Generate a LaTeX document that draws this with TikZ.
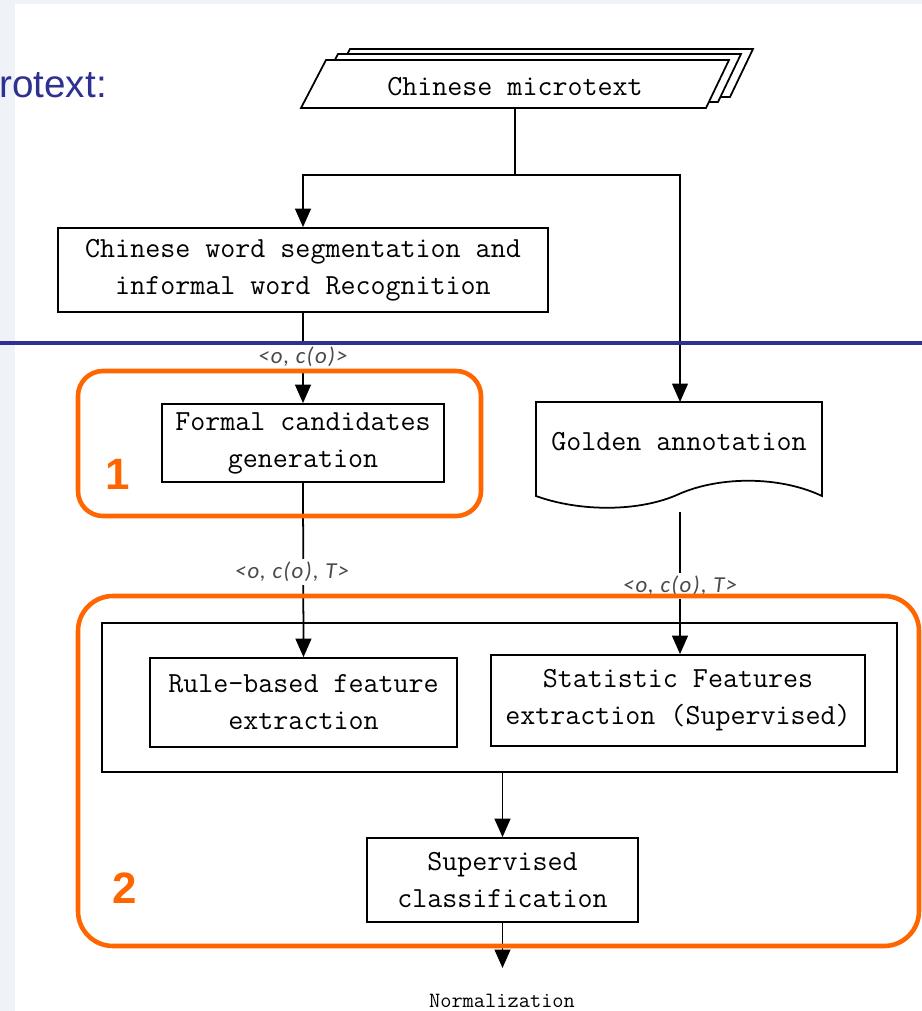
\documentclass[tikz,border=0pt]{standalone}
\usepackage{fontspec}
\usetikzlibrary{arrows.meta}
\newfontfamily\labf[LetterSpace=6]{Carlito}
\newfontfamily\arialf{Liberation Sans}
\definecolor{bgblue}{HTML}{EFF3F8}
\definecolor{titleblue}{HTML}{2E3192}
\definecolor{orng}{HTML}{FF6600}
\definecolor{labgray}{HTML}{4A4A4A}
\tikzset{
  box/.style={draw, line width=1pt, fill=white, align=center, inner sep=0pt,
    font=\ttfamily\fontsize{16.6pt}{21pt}\selectfont},
  arr/.style={line width=1pt, -{Triangle[length=10.5pt,width=9pt]}},
  conn/.style={line width=1pt},
  lab/.style={font=\labf\itshape\fontsize{13pt}{15pt}\selectfont, text=labgray, fill=white, inner sep=1.5pt},
  orbox/.style={draw=orng, line width=2.6pt},
  numlab/.style={font=\arialf\bfseries\fontsize{25pt}{30pt}\selectfont, text=orng, inner sep=0pt}
}
\begin{document}
\begin{tikzpicture}[x=0.02cm,y=-0.02cm]
\useasboundingbox (0,0) rectangle (922,1011);
\fill[bgblue] (0,0) rectangle (922,1011);
\fill[white] (15,4) rectangle (922,1011);

% partial title
\node[anchor=base west, inner sep=0pt, text=titleblue,
  font=\arialf\fontsize{22pt}{26pt}\selectfont] (title) at (-1,97) {rotext:};

% Chinese microtext stacked parallelogram
\foreach \dx/\dy in {24/-11,12/-6,0/0}{
  \draw[line width=1pt, fill=white] (301+\dx,108+\dy) -- (326+\dx,60+\dy) -- (729+\dx,60+\dy) -- (706+\dx,108+\dy) -- cycle;
}
\node[inner sep=0pt, font=\ttfamily\fontsize{16.6pt}{21pt}\selectfont] (cm) at (515,87) {Chinese microtext};
\coordinate (cmb) at (515,108);
\coordinate (split) at (515,175);

% boxes
\node[box, minimum width=9.8cm, minimum height=1.68cm] (seg) at (303,270)
  {Chinese word segmentation and\\informal word Recognition};
\node[box, minimum width=5.64cm, minimum height=1.56cm] (formal) at (303,443)
  {Formal candidates\\generation};
\node[box, minimum width=15.9cm, minimum height=2.98cm] (outer) at (499.5,697.5) {};
\node[box, minimum width=6.14cm, minimum height=1.78cm] (rule) at (303.5,702.5)
  {Rule-based feature\\extraction};
\node[box, minimum width=7.48cm, minimum height=1.82cm] (stat) at (678,700.5)
  {Statistic Features\\extraction (Supervised)};
\node[box, minimum width=5.42cm, minimum height=1.68cm] (sup) at (502.5,880)
  {Supervised\\classification};

% Golden annotation document shape
\draw[line width=1pt, fill=white] (536,402) -- (822,402) -- (822,496)
  .. controls (780,476) and (720,476) .. (679,494)
  .. controls (640,512) and (580,512) .. (536,496) -- cycle;
\node[inner sep=0pt, font=\ttfamily\fontsize{16.6pt}{21pt}\selectfont] (gold) at (679,442) {Golden annotation};
\coordinate (goldtop) at (680,402);
\coordinate (goldout) at (680,512);

% connectors
\draw[conn] (cmb) -- (split);
\draw[arr] (split) -| (seg.north);
\draw[arr] (split) -| (goldtop);
\draw[arr] (seg.south) -- (formal.north);
\draw[arr] (formal.south) -- (rule.north);
\draw[arr] (goldout) -- (goldout |- stat.north);
\draw[arr] (outer.south -| sup.north) -- (sup.north);
\coordinate (normtip) at (502.5,968);
\draw[arr] (sup.south) -- (normtip);
\node[inner sep=0pt, font=\ttfamily\fontsize{12.4pt}{14pt}\selectfont] (norm) at (502,1001) {Normalization};

% labels
\node[lab] (l1) at (303,357) {<o, c(o)>};
\node[lab] (l2) at (292,572) {<o, c(o), T>};
\node[lab] (l3) at (680,586) {<o, c(o), T>};

% orange groups
\draw[orbox, rounded corners=0.5cm] (78,371) rectangle (481,516);
\draw[orbox, rounded corners=0.7cm] (78,596) rectangle (919,946);
\node[numlab] (n1) at (118,474) {1};
\node[numlab] (n2) at (125,888) {2};

% blue rule
\draw[titleblue, line width=2.2pt] (0,343) -- (922,343);
\end{tikzpicture}
\end{document}
